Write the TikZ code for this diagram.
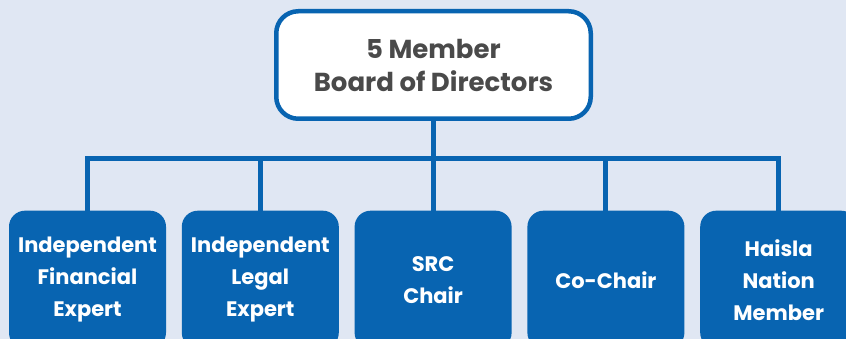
\documentclass[tikz,border=0pt]{standalone}
\usepackage{fontspec}
\setmainfont{Poppins}
\usetikzlibrary{positioning}
\definecolor{boardblue}{HTML}{0864B1}
\definecolor{pagebg}{HTML}{E0E7F3}
\definecolor{boardgray}{HTML}{4A4A4A}

\begin{document}
\begin{tikzpicture}[x=1pt,y=1pt,
    board/.style={draw=boardblue,line width=4.5pt,fill=white,rounded corners=22pt,
      minimum width=314.5pt,minimum height=107.5pt,align=center,
      text=boardgray,font=\fontsize{26}{33}\selectfont\bfseries},
    member/.style={fill=boardblue,rounded corners=16pt,outer sep=0pt,
      minimum width=157pt,minimum height=138pt,align=center,
      text=white,font=\fontsize{21}{32}\selectfont\bfseries},
    link/.style={boardblue,line width=5pt}]

    \useasboundingbox (0,0) rectangle (846,-339);
    \fill[pagebg] (0,0) rectangle (846,-339);
    \clip (0,0) rectangle (846,-339);

    \node[board] (B) at (433.5,-65) {5 Member\\Board of Directors};

    \node[member] (F) at (87.5,-279.7) {Independent\\Financial\\Expert};
    \node[member,right=15.8pt of F] (L) {Independent\\Legal\\Expert};
    \node[member,right=15.8pt of L] (S) {SRC\\Chair};
    \node[member,right=15.8pt of S] (C) {Co-Chair};
    \node[member,right=15.8pt of C] (H) {Haisla\\Nation\\Member};

    \foreach \m in {F,L,S,C,H}
      \draw[link] (B.south) -- ++(0,-37.5) -| (\m.north);
\end{tikzpicture}
\end{document}
